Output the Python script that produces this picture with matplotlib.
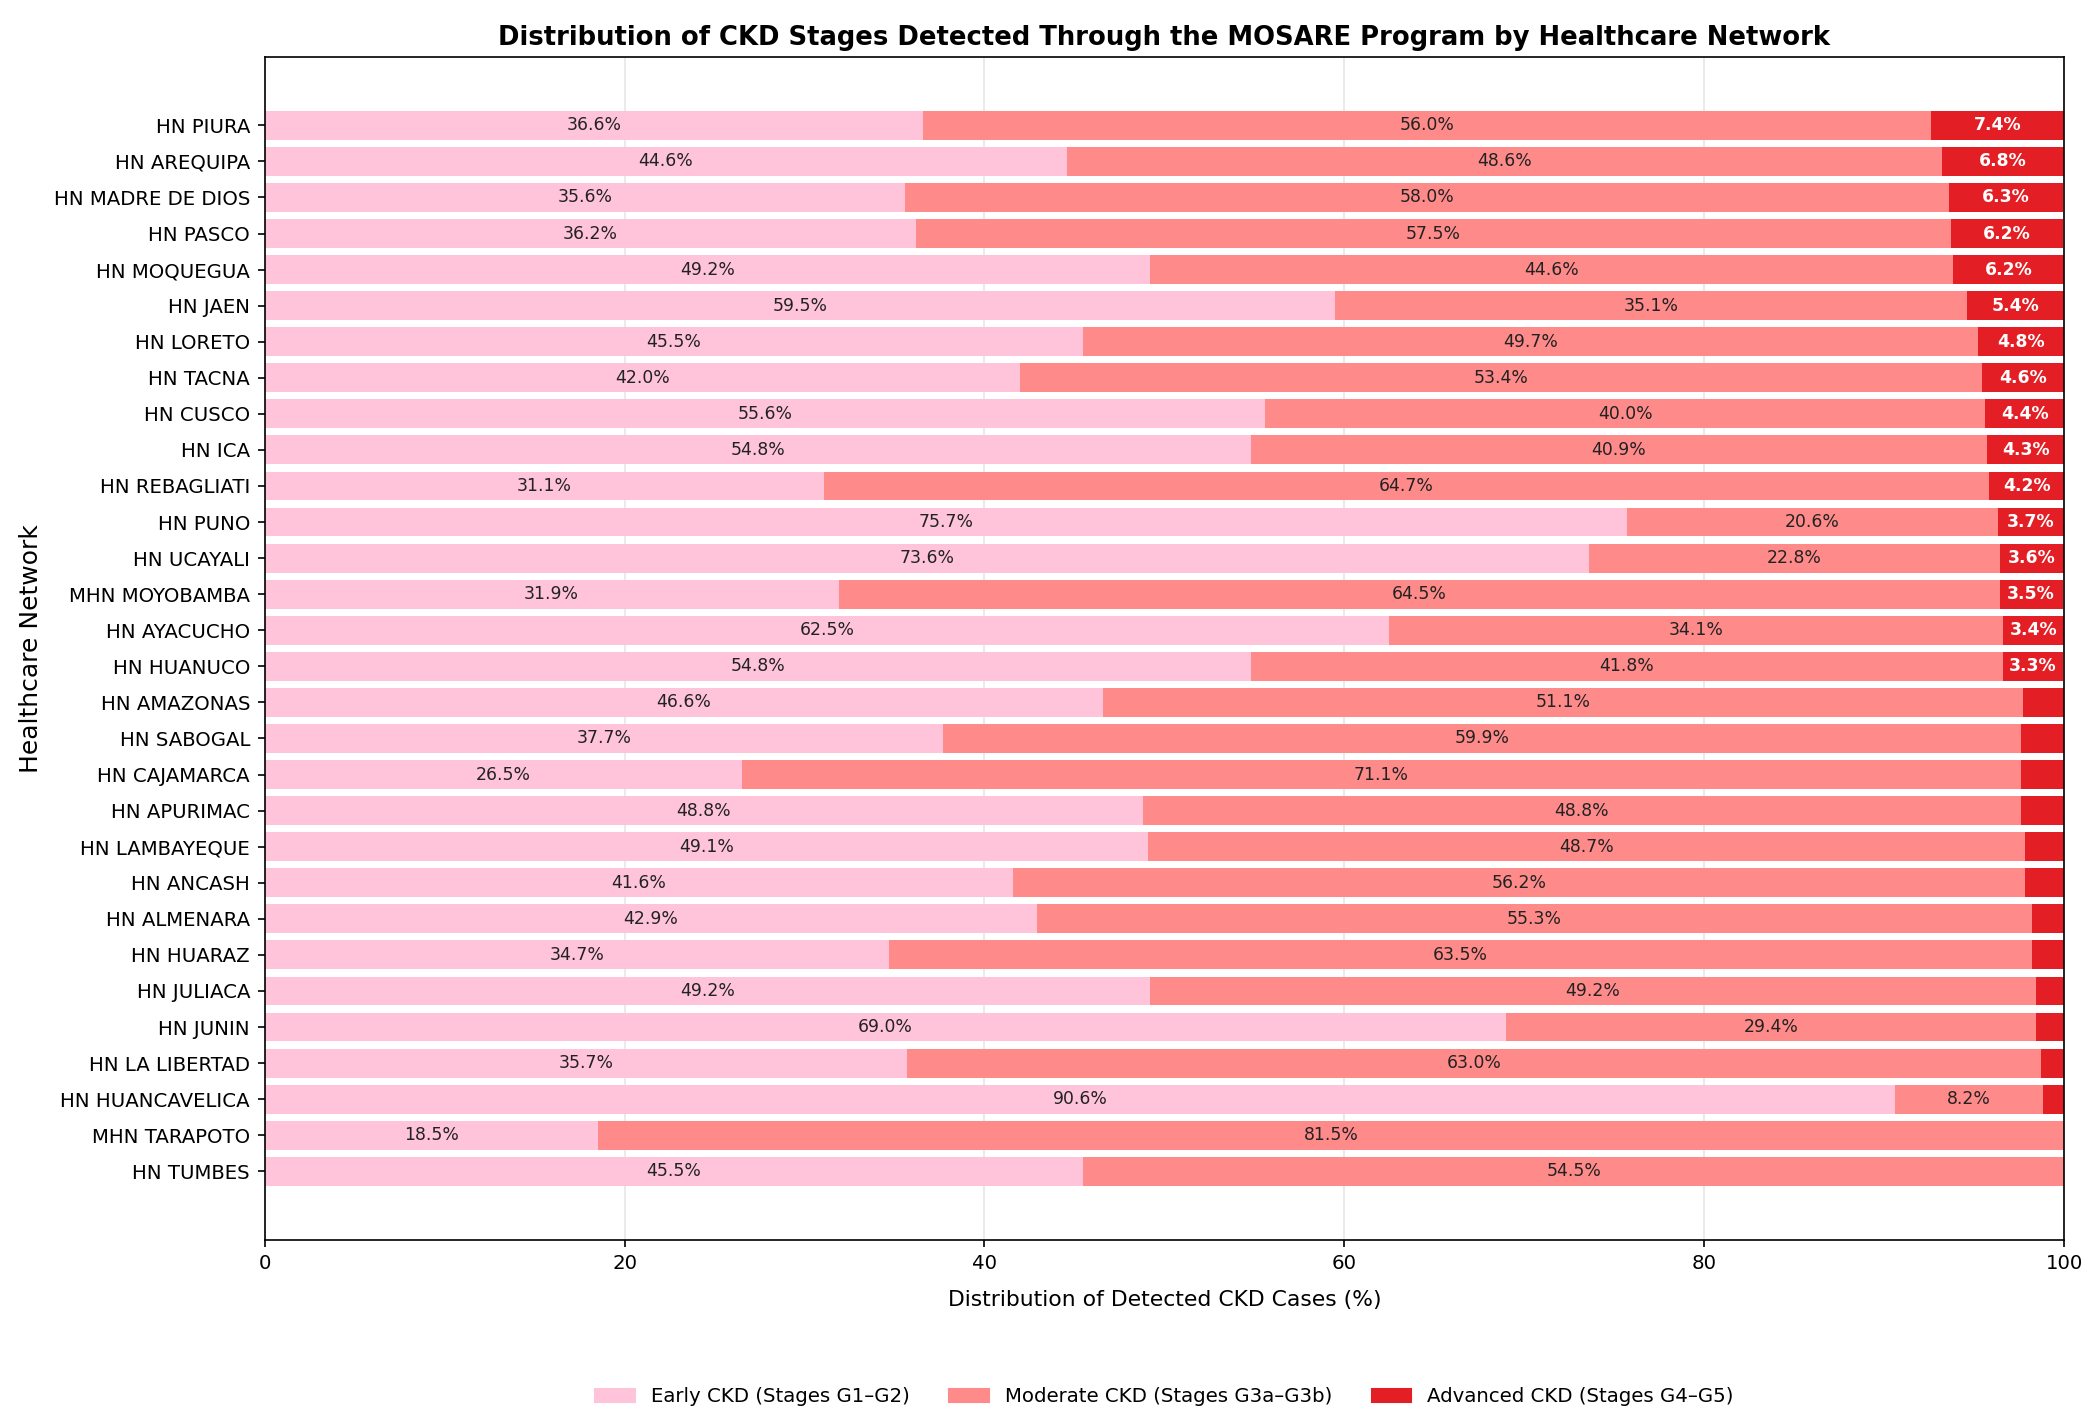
import numpy as np
import matplotlib.pyplot as plt
from matplotlib.patches import Patch

networks = [
    'HN PIURA', 'HN AREQUIPA', 'HN MADRE DE DIOS', 'HN PASCO', 'HN MOQUEGUA',
    'HN JAEN', 'HN LORETO', 'HN TACNA', 'HN CUSCO', 'HN ICA',
    'HN REBAGLIATI', 'HN PUNO', 'HN UCAYALI', 'MHN MOYOBAMBA', 'HN AYACUCHO',
    'HN HUANUCO', 'HN AMAZONAS', 'HN SABOGAL', 'HN CAJAMARCA', 'HN APURIMAC',
    'HN LAMBAYEQUE', 'HN ANCASH', 'HN ALMENARA', 'HN HUARAZ', 'HN JULIACA',
    'HN JUNIN', 'HN LA LIBERTAD', 'HN HUANCAVELICA', 'MHN TARAPOTO', 'HN TUMBES',
]
early = [36.6, 44.6, 35.6, 36.2, 49.2, 59.5, 45.5, 42.0, 55.6, 54.8,
         31.1, 75.7, 73.6, 31.9, 62.5, 54.8, 46.6, 37.7, 26.5, 48.8,
         49.1, 41.6, 42.9, 34.7, 49.2, 69.0, 35.7, 90.6, 18.5, 45.5]
moderate = [56.0, 48.6, 58.0, 57.5, 44.6, 35.1, 49.7, 53.4, 40.0, 40.9,
            64.7, 20.6, 22.8, 64.5, 34.1, 41.8, 51.1, 59.9, 71.1, 48.8,
            48.7, 56.2, 55.3, 63.5, 49.2, 29.4, 63.0, 8.2, 81.5, 54.5]
advanced = [7.4, 6.8, 6.3, 6.2, 6.2, 5.4, 4.8, 4.6, 4.4, 4.3,
            4.2, 3.7, 3.6, 3.5, 3.4, 3.3, 2.3, 2.4, 2.4, 2.4,
            2.2, 2.2, 1.8, 1.8, 1.6, 1.6, 1.3, 1.2, 0.0, 0.0]

legend_labels = ['Early CKD (Stages G1–G2)', 'Moderate CKD (Stages G3a–G3b)',
                 'Advanced CKD (Stages G4–G5)']
colors = ['#ffc4da', '#ff8a8a', '#e31e24']

early = np.array(early)
moderate = np.array(moderate)
advanced = np.array(advanced)
y = np.arange(len(networks))[::-1]

fig, ax = plt.subplots(figsize=(14, 9.52), dpi=150)

ax.barh(y, early, height=0.8, color=colors[0], zorder=2)
ax.barh(y, moderate, left=early, height=0.8, color=colors[1], zorder=2)
ax.barh(y, advanced, left=early + moderate, height=0.8, color=colors[2], zorder=2)

for i in range(len(networks)):
    ax.text(early[i] / 2, y[i], f'{early[i]:.1f}%', ha='center', va='center',
            fontsize=8.3, color='#222222', zorder=3)
    ax.text(early[i] + moderate[i] / 2, y[i], f'{moderate[i]:.1f}%', ha='center',
            va='center', fontsize=8.3, color='#222222', zorder=3)
    if advanced[i] >= 3:
        ax.text(early[i] + moderate[i] + advanced[i] / 2, y[i], f'{advanced[i]:.1f}%',
                ha='center', va='center', fontsize=8.3, color='white',
                fontweight='bold', zorder=3)

ax.set_yticks(y)
ax.set_yticklabels(networks, fontsize=9.5)
ax.set_xlim(0, 100)
ax.tick_params(axis='x', labelsize=9.5)
ax.grid(axis='x', color='#e6e6e6', linewidth=0.8, zorder=0)
ax.set_axisbelow(True)

ax.set_xlabel('Distribution of Detected CKD Cases (%)', fontsize=10.5, labelpad=8)
ax.set_ylabel('Healthcare Network', fontsize=12, labelpad=5)
ax.set_title('Distribution of CKD Stages Detected Through the MOSARE Program by Healthcare Network',
             fontsize=12.4, fontweight='bold')

handles = [Patch(color=c, label=l) for c, l in zip(colors, legend_labels)]
ax.legend(handles=handles, loc='upper center', bbox_to_anchor=(0.5, -0.11),
          ncol=3, frameon=False, fontsize=9.5)

plt.subplots_adjust(left=0.126, right=0.983, top=0.96, bottom=0.132)
plt.savefig('out.png', dpi=150)
